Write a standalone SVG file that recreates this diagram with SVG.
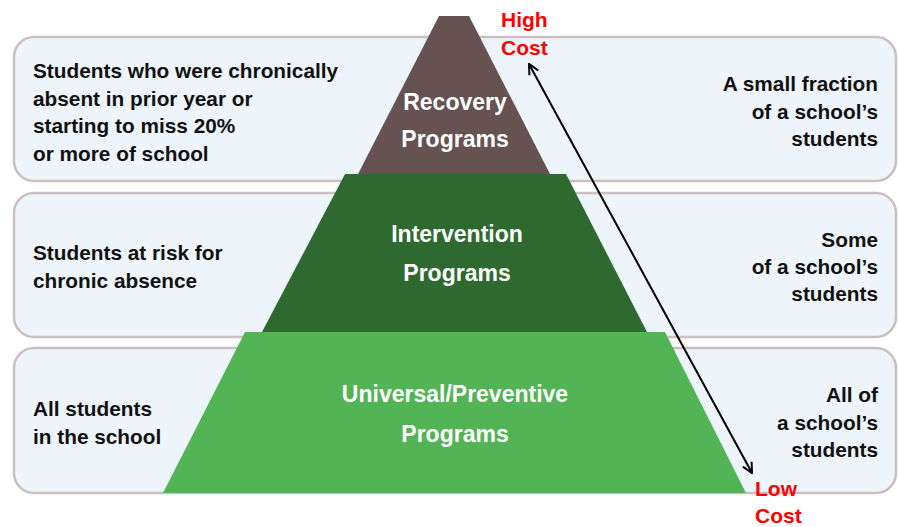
<svg xmlns="http://www.w3.org/2000/svg" width="899" height="527" viewBox="0 0 899 527">
<style>
.box{fill:#edf5fb;stroke:#cbbfbf;stroke-width:2.5}
.t{font-family:"Liberation Sans",Arial,sans-serif;font-weight:bold;font-size:20.8px;fill:#111}
.r{text-anchor:end}
.w{font-family:"Liberation Sans",Arial,sans-serif;font-weight:bold;font-size:23px;fill:#fff;text-anchor:middle}
.red{font-family:"Liberation Sans",Arial,sans-serif;font-weight:bold;font-size:21px;fill:#ff0000}
</style>
<defs>
<marker id="ah" viewBox="0 0 12 12" refX="11" refY="6" markerWidth="12" markerHeight="12" markerUnits="userSpaceOnUse" orient="auto-start-reverse">
<path d="M1,1 L11,6 L1,11" fill="none" stroke="#000" stroke-width="2"/>
</marker>
</defs>
<g id="band-top"><rect class="box" x="14" y="37" width="882" height="144" rx="20"/>
<text class="t" x="33" y="78">Students who were chronically</text>
<text class="t" x="33" y="106">absent in prior year or</text>
<text class="t" x="33" y="133">starting to miss 20%</text>
<text class="t" x="33" y="161">or more of school</text>
<text class="t r" x="878" y="91">A small fraction</text>
<text class="t r" x="878" y="119">of a school’s</text>
<text class="t r" x="878" y="146">students</text>
</g>
<g id="band-mid"><rect class="box" x="14" y="193" width="882" height="144" rx="20"/>
<text class="t" x="33" y="260">Students at risk for</text>
<text class="t" x="33" y="288">chronic absence</text>
<text class="t r" x="878" y="247">Some</text>
<text class="t r" x="878" y="274">of a school’s</text>
<text class="t r" x="878" y="301">students</text>
</g>
<g id="band-bottom"><rect class="box" x="14" y="348" width="882" height="145" rx="20"/>
<text class="t" x="33" y="416">All students</text>
<text class="t" x="33" y="444">in the school</text>
<text class="t r" x="878" y="402">All of</text>
<text class="t r" x="878" y="430">a school’s</text>
<text class="t r" x="878" y="457">students</text>
</g>
<g id="recovery"><polygon points="439,16 469,16 550,174 358,174" fill="#655251"/>
<text class="w" x="455" y="110">Recovery</text>
<text class="w" x="455" y="147">Programs</text>
</g>
<g id="intervention"><polygon points="345,174 566,174 647,332 262,332" fill="#2e6a2f"/>
<text class="w" x="457" y="242">Intervention</text>
<text class="w" x="457" y="281">Programs</text>
</g>
<g id="universal"><polygon points="245,332 665,332 746,493 163,493" fill="#52b455"/>
<text class="w" x="455" y="402">Universal/Preventive</text>
<text class="w" x="455" y="442">Programs</text>
</g>
<g id="connectors">
<line x1="752" y1="473" x2="529" y2="64" stroke="#000" stroke-width="2" marker-start="url(#ah)" marker-end="url(#ah)"/>
</g>
<g id="cost-labels">
<text class="red" x="501" y="27">High</text>
<text class="red" x="501" y="55">Cost</text>
<text class="red" x="755" y="496">Low</text>
<text class="red" x="755" y="523">Cost</text>
</g>
</svg>
